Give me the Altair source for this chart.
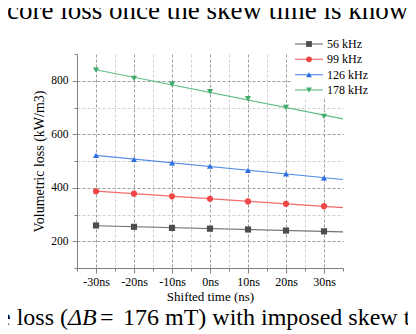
import altair as alt
import pandas as pd

# ---- data ----
times = [-30, -20, -10, 0, 10, 20, 30]
series_names = ["56 kHz", "99 kHz", "126 kHz", "178 kHz"]
loss_56 = [259, 254, 250, 247, 244, 240, 237]
loss_99 = [387, 378, 368, 359, 349, 340, 331]
loss_126 = [521, 506, 493, 481, 465, 452, 437]
loss_178 = [840, 809, 787, 759, 733, 700, 667]
x_tick_values = [-35, -30, -25, -20, -15, -10, -5, 0, 5, 10, 15, 20, 25, 30, 35]
y_tick_values = [100, 200, 300, 400, 500, 600, 700, 800, 900]
colors = ["#4d4d4d", "#f04646", "#2a70e0", "#3cac68"]
shapes = ["square", "circle", "triangle-up", "triangle-down"]

top_text = "core loss once the skew time is known"
cap1 = "e loss ("
cap2 = "\u0394B"
cap3 = "="
cap4 = "176 mT) with imposed skew time"

rows = []
for name, vals in zip(series_names, [loss_56, loss_99, loss_126, loss_178]):
    for t, v in zip(times, vals):
        rows.append({"time": t, "loss": v, "series": name})
df = pd.DataFrame(rows)
legend_df = pd.DataFrame({"series": series_names, "row": list(range(len(series_names)))})

SERIF = "Liberation Serif, Times New Roman, serif"
color_scale = alt.Scale(domain=series_names, range=colors)
shape_scale = alt.Scale(domain=series_names, range=shapes)

x_axis = alt.Axis(
    values=x_tick_values,
    labelExpr="datum.value % 10 === 0 ? datum.value + 'ns' : ''",
    title="Shifted time (ns)",
    grid=True,
    gridColor={"condition": {"test": "datum.value % 10 === 0", "value": "#9c9c9c"}, "value": "#d2d2d2"},
    gridOpacity={"condition": {"test": "abs(datum.value) === 35", "value": 0}, "value": 1},
    gridDash=[3, 2],
    tickSize={"condition": {"test": "datum.value % 10 === 0", "value": 5}, "value": 3},
    tickColor="#808080", domainColor="#808080",
    labelFont=SERIF, labelFontSize=12, labelColor="black", labelPadding=3,
    labelOverlap=False, labelFlush=False,
    titleFont=SERIF, titleFontSize=13, titleFontWeight="normal", titleColor="black", titlePadding=3,
)
y_axis = alt.Axis(
    values=y_tick_values,
    labelExpr="datum.value % 200 === 0 ? datum.label : ''",
    title="Volumetric loss (kW/m3)",
    grid=True,
    gridColor={"condition": {"test": "datum.value % 200 === 0", "value": "#9c9c9c"}, "value": "#d2d2d2"},
    gridOpacity={"condition": {"test": "datum.value === 100 || datum.value === 900", "value": 0}, "value": 1},
    gridDash=[3, 2],
    tickSize={"condition": {"test": "datum.value % 200 === 0", "value": 5}, "value": 3},
    tickColor="#808080", domainColor="#808080",
    labelFont=SERIF, labelFontSize=11.5, labelColor="black", labelPadding=4,
    labelOverlap=False, format="d",
    titleFont=SERIF, titleFontSize=14, titleFontWeight="normal", titleColor="black", titlePadding=4,
)

x_enc = alt.X("time:Q", scale=alt.Scale(domain=[-35, 35], nice=False, zero=False), axis=x_axis)
y_enc = alt.Y("loss:Q", scale=alt.Scale(domain=[100, 900], nice=False, zero=False), axis=y_axis)
color_enc = alt.Color("series:N", scale=color_scale, legend=None)

fit = alt.Chart(df).transform_regression(
    "time", "loss", groupby=["series"], extent=[-30, 35]
).mark_line(strokeWidth=1.2, opacity=0.8).encode(x=x_enc, y=y_enc, color=color_enc)

pts = alt.Chart(df).mark_point(filled=True, size=38, opacity=1).encode(
    x=x_enc, y=y_enc, color=color_enc,
    shape=alt.Shape("series:N", scale=shape_scale, legend=None),
)

main = alt.layer(fit, pts)

# ---- manual legend ----
leg_y = alt.Y("row:Q", scale=alt.Scale(domain=[0, 3], range=[-10, 36], nice=False, zero=False), axis=None)
leg_bg = alt.Chart(pd.DataFrame({"k": [0]})).mark_rect(color="white").encode(
    x=alt.value(214), x2=alt.value(280), y=alt.value(-20), y2=alt.value(43)
)
leg_line = alt.Chart(legend_df).mark_rule(strokeWidth=1.3, opacity=0.7).encode(
    x=alt.value(218), x2=alt.value(246), y=leg_y, color=color_enc
)
leg_pt = alt.Chart(legend_df).mark_point(filled=True, size=34, opacity=1).encode(
    x=alt.value(232), y=leg_y, color=color_enc,
    shape=alt.Shape("series:N", scale=shape_scale, legend=None),
)
leg_txt = alt.Chart(legend_df).mark_text(
    align="left", baseline="middle", font=SERIF, fontSize=12, color="black"
).encode(x=alt.value(250), y=leg_y, text="series:N")
legend = alt.layer(leg_bg, leg_line, leg_pt, leg_txt)

# ---- surrounding page text ----
def txt(s, x, y, size, style="normal"):
    return alt.Chart(pd.DataFrame({"t": [s]})).mark_text(
        align="left", baseline="alphabetic", font=SERIF, fontSize=size,
        fontStyle=style, color="black"
    ).encode(x=alt.value(x), y=alt.value(y), text="t:N")

texts = alt.layer(
    txt(top_text, -70, -35, 27),
    txt(cap1, -77, 271, 24),
    txt(cap2, -9, 271, 24, "italic"),
    txt(cap3, 23, 271, 24),
    txt(cap4, 46, 271, 24),
)

chart = alt.layer(main, legend, texts).resolve_scale(y="independent").properties(
    width=266, height=214,
    padding={"left": 69, "top": 46, "right": 65, "bottom": 64},
    autosize=alt.AutoSizeParams(type="none"),
    background="white",
).configure_view(stroke=None)

chart.save("out.html", embed_options={"renderer": "svg", "actions": False})
